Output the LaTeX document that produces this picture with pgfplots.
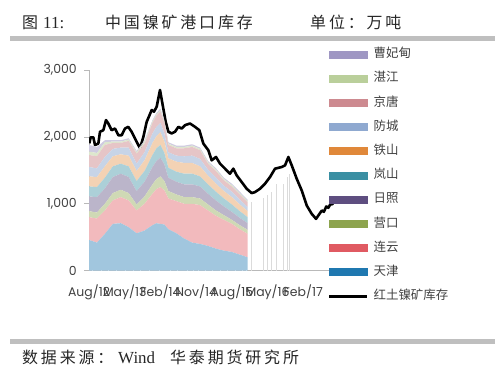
\documentclass[border=0pt]{standalone}
\usepackage{pgfplots}
\pgfplotsset{compat=1.18}
\usepackage{pgfplotstable}
\usepackage{fontspec}
\setmainfont{Liberation Serif}
\newfontfamily\cjk{Noto Sans CJK SC}
\newfontfamily\cjkt[LetterSpace=18]{Noto Sans CJK SC}
\newfontfamily\tickf{Poppins}
\definecolor{cTJ}{HTML}{1F78B0}
\definecolor{cLY}{HTML}{E05A62}
\definecolor{cYK}{HTML}{8DA44E}
\definecolor{cRZ}{HTML}{5E4E80}
\definecolor{cLS}{HTML}{3A8FA3}
\definecolor{cTS}{HTML}{E0883A}
\definecolor{cFC}{HTML}{8FA9D0}
\definecolor{cJT}{HTML}{CD8A90}
\definecolor{cZJ}{HTML}{BACF9B}
\definecolor{cCF}{HTML}{9F97C3}
\definecolor{txt}{HTML}{404040}

\pgfplotstableread{
m  tj  ly  yk  rz  ls  ts  fc  jt  zj  cf
0  460 340 90  220 150 150 140 180 50  100
2  420 360 90  230 150 150 130 180 50  90
4  550 350 100 230 160 170 140 180 40  30
6  700 350 110 240 160 150 110 90  20  20
8  710 390 110 240 150 140 100 70  20  20
10 650 400 110 240 160 160 120 100 20  20
12 560 340 90  200 150 150 110 150 20  20
14 600 400 110 220 160 160 120 130 30  20
16 680 470 140 260 180 180 140 160 20  20
17 710 510 150 270 190 180 140 170 20  20
18 700 550 160 280 190 190 140 170 20  20
19 690 510 140 250 170 170 120 160 20  20
20 620 460 110 200 150 140 90  110 20  20
22 560 480 100 190 150 150 90  110 20  20
24 480 520 100 190 160 160 100 120 20  20
26 420 580 100 190 160 160 110 130 20  20
28 400 580 100 180 150 150 110 130 20  20
30 370 530 90  160 140 130 90  90  20  20
32 330 490 80  150 130 120 90  100 20  20
34 300 460 70  130 120 110 80  80  20  20
36 280 420 60  120 110 110 80  80  20  20
38 240 380 60  110 100 100 70  80  20  20
40 200 350 60  100 90  90  60  70  20  20
}\stk

\pgfplotstableread{
m v
0.08 1904
0.42 1994
1.09 1994
1.51 1879
2.35 1900
2.77 2077
3.61 2100
4.29 2252
4.87 2200
5.71 2100
6.55 2125
7.39 2025
8.24 2025
9.07 2125
9.91 2150
10.76 2075
11.6 1975
12.86 1829
13.7 2000
14.54 2225
15.8 2402
16.39 2377
17.06 2452
17.9 2701
18.57 2476
19.33 2226
20 2077
20.84 2052
21.68 2077
22.52 2150
23.36 2125
24.2 2175
25.46 2200
26.72 2150
27.81 2100
28.82 1900
30.08 1800
30.92 1650
32.01 1700
33.02 1600
34.28 1525
35.54 1450
36.38 1525
37.22 1425
38.48 1325
39.74 1225
41 1160
41.84 1175
43.1 1225
44.36 1300
45.62 1400
46.88 1525
48.57 1550
49.41 1575
50.25 1700
51.09 1575
52.35 1375
53.61 1200
54.87 975
56.13 850
57.22 775
58.23 862
58.7 900
59.2 880
59.8 960
60.3 940
60.9 1000
61.3 990
61.76 1042
}\line

\pgfplotstableread{
m v
1.0 1865
3.2 1900
5.0 1950
7.0 1950
9.3 1970
11.2 1900
13.0 1850
15.2 2100
17.8 2400
20.6 1890
22.3 1870
24.8 1880
26.3 1890
27.6 1860
29.4 1740
31.2 1580
33.1 1460
35.0 1350
36.8 1260
38.6 1150
39.6 1080
}\gaps

\pgfplotstableread{
m v
41.0 1030
43.9 1080
44.9 1130
46.0 1180
47.3 1300
48.9 1300
49.9 1400
50.6 1450
}\ghost

\begin{document}
\begin{tikzpicture}[x=1bp,y=1bp]
\path[use as bounding box] (0,0) rectangle (500,372);
% rules
\fill[gray!50] (10,331.5) rectangle (495,336.5);
\fill[gray!50] (10,28) rectangle (495,33);
% title
\node[anchor=base west,inner sep=0pt,text=black!85] at (22,343.5) {\cjk\fontsize{16}{16}\selectfont 图};
\node[anchor=base west,inner sep=0pt,text=black!85] at (43,343.5) {\fontsize{17}{17}\selectfont 11:};
\node[anchor=base west,inner sep=0pt,text=black!85] at (105,343.5) {\cjkt\fontsize{16}{16}\selectfont 中国镍矿港口库存};
\node[anchor=base west,inner sep=0pt,text=black!85] at (310,343.5) {\cjkt\fontsize{16}{16}\selectfont 单位：万吨};
% footer
\node[anchor=base west,inner sep=0pt,text=black!85] at (22,8.5) {\cjkt\fontsize{16}{16}\selectfont 数据来源：};
\node[anchor=base west,inner sep=0pt,text=black!85] at (118,8.5) {\fontsize{17}{17}\selectfont Wind};
\node[anchor=base west,inner sep=0pt,text=black!85] at (170,8.5) {\cjkt\fontsize{16}{16}\selectfont 华泰期货研究所};
\begin{axis}[
  at={(89bp,101.3bp)}, anchor=south west,
  scale only axis, width=246bp, height=200.7bp,
  xmin=0, xmax=62, ymin=0, ymax=3000,
  axis x line*=bottom, axis y line*=left,
  axis line style={draw=gray!55, line width=0.8bp},
  xtick={0,9,18,27,36,45,54},
  xticklabels={Aug/12,May/13,Feb/14,Nov/14,Aug/15,May/16,Feb/17},
  ytick={0,1000,2000,3000},
  tick align=outside, major tick length=5bp,
  xtick style={draw=none}, ytick style={draw=gray!55, line width=0.8bp},
  scaled y ticks=false,
  /pgf/number format/assume math mode=true,
  /pgf/number format/1000 sep={,},
  ticklabel style={font=\tickf\fontsize{12.5}{12.5}\selectfont, text=txt},
  yticklabel style={inner sep=0pt, anchor=east, xshift=-7bp},
  xticklabel style={inner sep=0pt, anchor=north, yshift=-9bp},
  stack plots=y,
  legend cell align=left,
  legend style={at={(axis description cs:0.9715,1.106)}, anchor=north west,
    draw=none, fill=none, inner sep=0pt, outer sep=0pt,
    row sep=13.2bp, column sep=5bp,
    font=\cjk\fontsize{12.5}{12.5}\selectfont, text=txt,
    nodes={inner sep=0pt, text height=9bp, text depth=2bp}},
]
\addplot[fill=cTJ!42!white, draw=none, forget plot] table[x=m,y=tj]{\stk} \closedcycle;
\addplot[fill=cLY!42!white, draw=none, forget plot] table[x=m,y=ly]{\stk} \closedcycle;
\addplot[fill=cYK!42!white, draw=none, forget plot] table[x=m,y=yk]{\stk} \closedcycle;
\addplot[fill=cRZ!42!white, draw=none, forget plot] table[x=m,y=rz]{\stk} \closedcycle;
\addplot[fill=cLS!42!white, draw=none, forget plot] table[x=m,y=ls]{\stk} \closedcycle;
\addplot[fill=cTS!38!white, draw=none, forget plot] table[x=m,y=ts]{\stk} \closedcycle;
\addplot[fill=cFC!50!white, draw=none, forget plot] table[x=m,y=fc]{\stk} \closedcycle;
\addplot[fill=cJT!50!white, draw=none, forget plot] table[x=m,y=jt]{\stk} \closedcycle;
\addplot[fill=cZJ!50!white, draw=none, forget plot] table[x=m,y=zj]{\stk} \closedcycle;
\addplot[fill=cCF!50!white, draw=none, forget plot] table[x=m,y=cf]{\stk} \closedcycle;
\addplot[stack plots=false, ycomb, draw=white, line width=1bp, forget plot] table[x=m,y=v]{\gaps};
\addplot[stack plots=false, ycomb, draw=gray!28, line width=0.6bp, forget plot] table[x=m,y=v]{\ghost};
\addplot[stack plots=false, black, line width=2.6bp, line join=round, forget plot] table[x=m,y=v]{\line};
\addlegendimage{legend image code/.code={\fill[cCF] (0bp,-3.5bp) rectangle (38bp,3.5bp);}}
\addlegendentry{曹妃甸}
\addlegendimage{legend image code/.code={\fill[cZJ] (0bp,-3.5bp) rectangle (38bp,3.5bp);}}
\addlegendentry{湛江}
\addlegendimage{legend image code/.code={\fill[cJT] (0bp,-3.5bp) rectangle (38bp,3.5bp);}}
\addlegendentry{京唐}
\addlegendimage{legend image code/.code={\fill[cFC] (0bp,-3.5bp) rectangle (38bp,3.5bp);}}
\addlegendentry{防城}
\addlegendimage{legend image code/.code={\fill[cTS] (0bp,-3.5bp) rectangle (38bp,3.5bp);}}
\addlegendentry{铁山}
\addlegendimage{legend image code/.code={\fill[cLS] (0bp,-3.5bp) rectangle (38bp,3.5bp);}}
\addlegendentry{岚山}
\addlegendimage{legend image code/.code={\fill[cRZ] (0bp,-3.5bp) rectangle (38bp,3.5bp);}}
\addlegendentry{日照}
\addlegendimage{legend image code/.code={\fill[cYK] (0bp,-3.5bp) rectangle (38bp,3.5bp);}}
\addlegendentry{营口}
\addlegendimage{legend image code/.code={\fill[cLY] (0bp,-3.5bp) rectangle (38bp,3.5bp);}}
\addlegendentry{连云}
\addlegendimage{legend image code/.code={\fill[cTJ] (0bp,-3.5bp) rectangle (38bp,3.5bp);}}
\addlegendentry{天津}
\addlegendimage{legend image code/.code={\draw[black,line width=2.6bp] (0bp,0bp) -- (38bp,0bp);}}
\addlegendentry{红土镍矿库存}
\end{axis}
\end{tikzpicture}
\end{document}
